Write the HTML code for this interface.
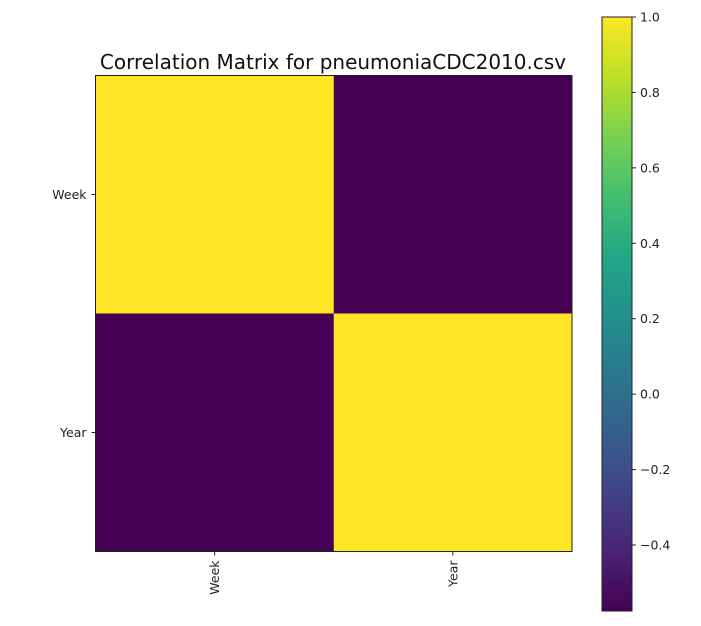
<!DOCTYPE html>
<html><head><meta charset="utf-8"><style>
body{margin:0;background:#fff;font-family:"DejaVu Sans",sans-serif;}
</style></head><body>
<svg id="chart" width="701" height="622" font-family="DejaVu Sans, sans-serif">
<defs><linearGradient id="vir" x1="0" y1="1" x2="0" y2="0">
<stop offset="0" stop-color="#440154"/><stop offset="0.1" stop-color="#482475"/><stop offset="0.2" stop-color="#414487"/><stop offset="0.3" stop-color="#355f8d"/><stop offset="0.4" stop-color="#2a788e"/><stop offset="0.5" stop-color="#21918c"/><stop offset="0.6" stop-color="#22a884"/><stop offset="0.7" stop-color="#44bf70"/><stop offset="0.8" stop-color="#7ad151"/><stop offset="0.9" stop-color="#bddf26"/><stop offset="1" stop-color="#fde725"/></linearGradient></defs>
<text x="333" y="69" text-anchor="middle" font-size="20" fill="#111">Correlation Matrix for pneumoniaCDC2010.csv</text>
<g id="cells"></g>
<rect x="95.5" y="75.5" width="476.5" height="476" fill="none" stroke="#222" stroke-width="1"/>
<g id="axes" font-size="12.5" fill="#222"></g>
<rect x="602" y="17" width="30" height="594" fill="url(#vir)" stroke="#222" stroke-width="1"/>
<g id="cbticks" font-size="12.5" fill="#222"></g>
</svg>
<script>
const labels = ["Week","Year"];
const matrix = [[1.0,-0.575],[-0.575,1.0]];
const cbTicks = [1.0,0.8,0.6,0.4,0.2,0.0,-0.2,-0.4];
const vmin = -0.575, vmax = 1.0;
const ns="http://www.w3.org/2000/svg";
const X0=95.5,Y0=75.5,W=476.5,H=476;
const cw=W/labels.length, ch=H/labels.length;
const stops=[[68,1,84],[72,36,117],[65,68,135],[53,95,141],[42,120,142],[33,145,140],[34,168,132],[68,191,112],[122,209,81],[189,223,38],[253,231,37]];
function color(v){let t=(v-vmin)/(vmax-vmin);t=Math.max(0,Math.min(1,t));const p=t*10,i=Math.min(9,Math.floor(p)),f=p-i;const a=stops[i],b=stops[i+1];return `rgb(${a.map((c,k)=>Math.round(c+(b[k]-c)*f)).join(',')})`;}
const cells=document.getElementById('cells');
matrix.forEach((row,r)=>row.forEach((v,c)=>{const e=document.createElementNS(ns,'rect');
e.setAttribute('x',X0+c*cw);e.setAttribute('y',Y0+r*ch);e.setAttribute('width',cw+0.5);e.setAttribute('height',ch+0.5);e.setAttribute('fill',color(v));


cells.appendChild(e);}));
const ax=document.getElementById('axes');
labels.forEach((l,i)=>{
const y=Y0+(i+0.5)*ch;
const tl=document.createElementNS(ns,'line');tl.setAttribute('x1',X0-4);tl.setAttribute('x2',X0);tl.setAttribute('y1',y);tl.setAttribute('y2',y);tl.setAttribute('stroke','#222');ax.appendChild(tl);
const t=document.createElementNS(ns,'text');t.setAttribute('x',X0-9);t.setAttribute('y',y+4.5);t.setAttribute('text-anchor','end');t.textContent=l;


ax.appendChild(t);
const x=X0+(i+0.5)*cw;
const bl=document.createElementNS(ns,'line');bl.setAttribute('x1',x);bl.setAttribute('x2',x);bl.setAttribute('y1',Y0+H);bl.setAttribute('y2',Y0+H+4);bl.setAttribute('stroke','#222');ax.appendChild(bl);
const u=document.createElementNS(ns,'text');u.setAttribute('transform',`translate(${x+4.5},${Y0+H+9}) rotate(-90)`);u.setAttribute('text-anchor','end');u.textContent=l;


ax.appendChild(u);
});
const cb=document.getElementById('cbticks');
const cy=v=>17+(vmax-v)/(vmax-vmin)*594;
cbTicks.forEach(v=>{const y=cy(v);
const l=document.createElementNS(ns,'line');l.setAttribute('x1',632);l.setAttribute('x2',636);l.setAttribute('y1',y);l.setAttribute('y2',y);l.setAttribute('stroke','#222');cb.appendChild(l);
const t=document.createElementNS(ns,'text');t.setAttribute('x',640);t.setAttribute('y',y+4.5);t.textContent=(v<0?'\u2212':'')+Math.abs(v).toFixed(1);


cb.appendChild(t);});
</script>
</body></html>
